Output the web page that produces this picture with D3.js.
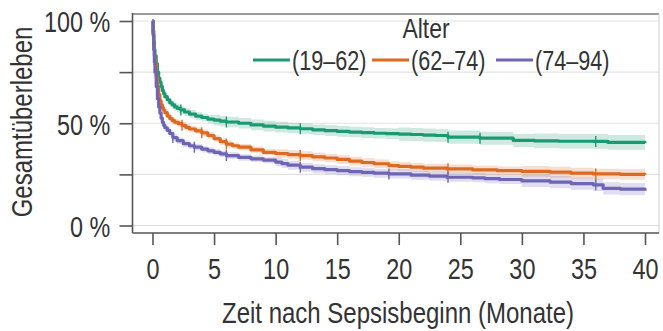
<!DOCTYPE html>
<html><head><meta charset="utf-8">
<script src="https://cdn.jsdelivr.net/npm/d3@7"></script>
<style>
html,body{margin:0;padding:0;background:#fff;}
svg{display:block;font-family:"Liberation Sans",Arial,sans-serif;}
</style></head>
<body><svg id="c" width="663" height="331"></svg>
<script>
// ---- data ----
const groups = ["(19–62)", "(62–74)", "(74–94)"];
const colors = ["#1b9a72", "#dc6a22", "#6e66b4"];

const timeA = [0,0.05,0.1,0.15,0.2,0.3,0.4,0.5,0.6,0.7,0.8,0.9,1.0,1.2,1.4,1.6,1.8,2.0,2.3,2.6,3,3.5,4,4.5,5,5.5,6,7,8,9,10,11,12,13,14,15,16,17,18,19,20,21,22,23,24,26.6,29.3,31,33,35.8,37,40];
const survA = [100,95,90,86,83,79,75,72,70,68,66,64.5,63,61.5,60,59,58,57.3,56.5,55.5,54.5,53.5,52.8,52,51.5,51,50.6,50,49.2,48.6,48.1,47.7,47.3,46.8,46.4,46,45.7,45.4,45.1,44.9,44.7,44.5,44.2,44,43.2,42.7,41.6,41.4,41.2,41.1,40.6,40.4];
const ciA = [[0,1],[1,2],[5,2.6],[20,3.2],[30,3.6]];
const censorA = [2.3,6,12,24,26.6,36];

const timeB = [0,0.05,0.1,0.15,0.2,0.3,0.4,0.5,0.6,0.7,0.8,0.9,1.0,1.2,1.4,1.6,1.8,2.1,2.4,2.7,3,3.5,4,4.5,5,5.5,6,6.5,7,8,9,10,11,12,13,14,15,16,17,18,19.2,20,21,22,23.9,26,28,30,32.3,34,35.8,38,40];
const survB = [100,94,88,83,79,73,68,64,61,59,57.5,56.3,55.2,53.5,52.3,51.3,50.5,49.8,49,48,47.2,46.3,45.3,44,42.5,41,39.8,39,38.3,37,35.8,35.2,34.7,34.2,33.6,33,32.3,31.5,30.8,30.2,29.3,28.9,28.5,28.1,27.7,27.2,26.8,26.5,26.1,25.6,25.2,25,24.8];
const ciB = [[0,1],[1,1.6],[10,2.1],[30,2.6]];
const censorB = [2.4,4,6,12,24,36];

const timeC = [0,0.05,0.1,0.15,0.2,0.3,0.4,0.5,0.6,0.7,0.8,0.9,1.0,1.2,1.4,1.65,2,2.5,3,3.4,4,4.5,5,5.5,6,7,8,9,10,10.5,11,12,13,14,15,16,17,18,19.2,21,22.5,23.9,26,27,28.2,30,32.3,34,35.8,36.6,38,40];
const survC = [100,93,86,80,75,68,62,58,55,52.5,50.5,49,47.8,46.5,45,43,41.5,40,39,38.3,37.3,36.5,35.8,35,34.2,33.3,32.6,32,31,30.3,29.5,28.5,27.8,27.3,26.8,26.3,26,25.6,25.2,24.6,24.1,23.6,23.3,22.9,22.5,21.8,21.2,20.5,19.9,18.2,17.8,17];
const ciC = [[0,1],[1,1.6],[10,2.2],[30,3]];
const censorC = [1.65,3.4,6,12,19.2,24,36];

const xTicks = [0,5,10,15,20,25,30,35,40];
const yTicks = [0,25,50,75,100];
const yLabels = {0:"0 %",50:"50 %",100:"100 %"};
const xTitle = "Zeit nach Sepsisbeginn (Monate)";
const yTitle = "Gesamtüberleben";
const legendTitle = "Alter";

// ---- drawing ----
const svg = d3.select("#c");
const x = d3.scaleLinear().domain([0,40]).range([152.5,645]);
const y = d3.scaleLinear().domain([0,100]).range([225.5,21]);
const L = 132.5, R = 659, T = 14, B = 233;

// gridlines
svg.append("g").selectAll("line").data(yTicks).join("line")
  .attr("x1",L).attr("x2",R).attr("y1",d=>y(d)).attr("y2",d=>y(d))
  .attr("stroke","#e2e2e2").attr("stroke-width",1.2);

// frame
svg.append("line").attr("x1",L).attr("x2",R).attr("y1",T).attr("y2",T).attr("stroke","#9a9a9a").attr("stroke-width",2);
svg.append("line").attr("x1",R).attr("x2",R).attr("y1",T).attr("y2",B).attr("stroke","#d6d6d6").attr("stroke-width",1.2);

const series = [
  {t:timeA, s:survA, ci:ciA, c:censorA},
  {t:timeB, s:survB, ci:ciB, c:censorB},
  {t:timeC, s:survC, ci:ciC, c:censorC}
];
function half(ci, t){ let h = ci[0][1]; ci.forEach(p=>{ if (t>=p[0]) h=p[1]; }); return h; }
function survAt(ser, t){ let v = ser.s[0]; ser.t.forEach((tt,i)=>{ if (t>=tt) v=ser.s[i]; }); return v; }

const plot = svg.append("g");
series.forEach((ser,i)=>{
  const pts = ser.t.map((t,k)=>({t, v:ser.s[k], h:half(ser.ci,t)}));
  plot.append("path").datum(pts)
    .attr("d", d3.area().curve(d3.curveStepAfter).x(d=>x(d.t)).y0(d=>y(d.v-d.h)).y1(d=>y(d.v+d.h)))
    .attr("fill", colors[i]).attr("fill-opacity",0.22);
});
series.forEach((ser,i)=>{
  const pts = ser.t.map((t,k)=>({t, v:ser.s[k]}));
  plot.append("path").datum(pts)
    .attr("d", d3.line().curve(d3.curveStepAfter).x(d=>x(d.t)).y(d=>y(d.v)))
    .attr("fill","none").attr("stroke", colors[i]).attr("stroke-width",3.2).attr("stroke-linejoin","round");
  plot.append("g").selectAll("line").data(ser.c).join("line")
    .attr("x1",d=>x(d)).attr("x2",d=>x(d))
    .attr("y1",d=>y(survAt(ser,d))-5.5).attr("y2",d=>y(survAt(ser,d))+5.5)
    .attr("stroke", colors[i]).attr("stroke-width",1.4);
});

// axes
const xa = svg.append("g").attr("transform",`translate(0,${B})`)
  .call(d3.axisBottom(x).tickValues(xTicks).tickSize(12).tickPadding(13).tickFormat(d3.format("d")));
xa.select(".domain").remove();
xa.selectAll("line").attr("stroke","#555").attr("stroke-width",1.6);
xa.selectAll("text").attr("font-size",30).attr("fill","#333").attr("font-family","Liberation Sans, Arial, sans-serif")
  .attr("transform","scale(0.78,1)");

const ya = svg.append("g").attr("transform",`translate(${L},0)`)
  .call(d3.axisLeft(y).tickValues(yTicks).tickSize(13).tickFormat(d=>yLabels[d]||""));
ya.select(".domain").remove();
ya.selectAll("line").attr("stroke","#555").attr("stroke-width",1.6);
ya.selectAll("text").attr("font-size",30).attr("fill","#333").attr("font-family","Liberation Sans, Arial, sans-serif")
  .attr("x",-28.5).attr("dy","0.36em").attr("transform","scale(0.78,1)");

// spines
svg.append("line").attr("x1",L).attr("x2",L).attr("y1",T-1).attr("y2",B).attr("stroke","#555").attr("stroke-width",1.6);
svg.append("line").attr("x1",L).attr("x2",R).attr("y1",B).attr("y2",B).attr("stroke","#555").attr("stroke-width",1.6);

// titles
svg.append("text").attr("transform","translate(398,323) scale(0.8,1)").attr("text-anchor","middle")
  .attr("font-size",30).attr("fill","#333").text(xTitle);
svg.append("text").attr("transform","translate(32,122) rotate(-90) scale(0.8,1)").attr("text-anchor","middle")
  .attr("font-size",30).attr("fill","#333").text(yTitle);

// legend
svg.append("text").attr("transform","translate(426,38) scale(0.82,1)").attr("text-anchor","middle")
  .attr("font-size",28).attr("fill","#333").text(legendTitle);
const legX = [253, 372, 496];
const leg = svg.append("g").selectAll("g").data(groups).join("g")
  .attr("transform",(d,i)=>`translate(${legX[i]},60)`);
leg.append("line").attr("x1",0).attr("x2",37).attr("y1",0).attr("y2",0)
  .attr("stroke",(d,i)=>colors[i]).attr("stroke-width",3);
leg.append("text").attr("transform","translate(39,10) scale(0.8,1)")
  .attr("font-size",27).attr("fill","#333").text(d=>d);
</script></body></html>
